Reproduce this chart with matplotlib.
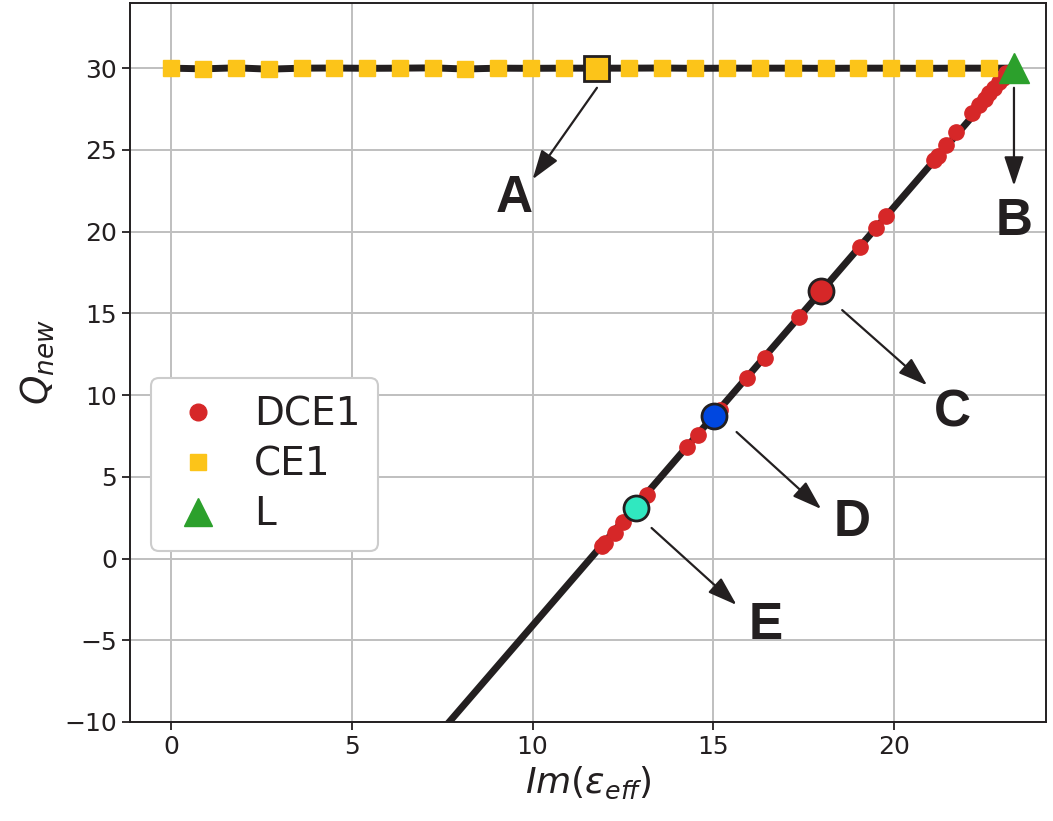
import matplotlib.pyplot as plt

# CE1 branch (horizontal)
ce1_x = [0.0, 0.90, 1.81, 2.71, 3.62, 4.52, 5.43, 6.33, 7.24, 8.14, 9.05, 9.95,
         10.86, 11.76, 12.67, 13.57, 14.48, 15.38, 16.29, 17.19, 18.10, 19.00,
         19.91, 20.81, 21.72, 22.62]
ce1_y = [30.0, 29.96, 30.02, 29.94, 30.0, 30.01, 29.99, 30.0, 30.02, 29.95, 30.0,
         29.99, 30.0, 30.0, 30.0, 30.01, 29.99, 30.0, 30.0, 30.0, 29.99, 30.0,
         30.0, 29.99, 30.0, 30.0]

# DCE1 branch (diagonal)
dce1_x = [11.93, 11.99, 12.27, 12.49, 13.15, 14.28, 14.56, 15.17, 15.94, 16.44,
          17.38, 19.06, 19.50, 19.78, 21.10, 21.20, 21.44, 21.71, 22.15, 22.35,
          22.50, 22.62, 22.75, 22.90, 23.00, 23.09]
dce1_y = [0.75, 0.95, 1.56, 2.23, 3.88, 6.82, 7.55, 9.08, 11.04, 12.26,
          14.77, 19.05, 20.21, 20.95, 24.37, 24.65, 25.29, 26.09, 27.25, 27.74,
          28.10, 28.47, 28.80, 29.14, 29.40, 29.69]

# fitted line through DCE1
fit_x = [7.50, 23.31]
fit_y = [-10.5, 30.0]

l_x, l_y = [23.31], [30.0]

# highlighted points
pts = {
    "A": (11.76, 30.0, "#fcc419", "s"),
    "C": (17.98, 16.36, "#d62728", "o"),
    "D": (15.02, 8.70, "#0047e0", "o"),
    "E": (12.87, 3.12, "#30e8c0", "o"),
}

# annotation arrows: label -> (tail, head, text position)
arrows = {
    "A": ((11.78, 28.8), (10.0, 23.2), (9.5, 22.0)),
    "B": ((23.31, 28.8), (23.31, 22.8), (23.31, 20.6)),
    "C": ((18.56, 15.2), (20.91, 10.6), (21.6, 8.9)),
    "D": ((15.64, 7.74), (17.98, 3.03), (18.84, 2.2)),
    "E": ((13.29, 1.87), (15.64, -2.84), (16.44, -4.1)),
}

line_col = "#231f20"

fig = plt.figure(figsize=(10.53, 8.21), dpi=100)
ax = fig.add_axes([0.1235, 0.1206, 0.870, 0.876])

ax.grid(True, color="#bfbfbf", linewidth=1.4, zorder=0)
ax.set_axisbelow(True)

ax.plot(ce1_x + l_x, ce1_y + l_y, color=line_col, linewidth=5, zorder=2)
ax.plot(fit_x, fit_y, color=line_col, linewidth=5, zorder=2)

ax.plot(dce1_x, dce1_y, "o", color="#d62728", markersize=11, linestyle="none",
        zorder=3, label="DCE1")
ax.plot(ce1_x, ce1_y, "s", color="#fcc419", markersize=11.5, linestyle="none",
        zorder=3, label="CE1")
ax.plot(l_x, l_y, "^", color="#2ca02c", markersize=22, linestyle="none",
        zorder=5, label="L")

for name, (px, py, col, mk) in pts.items():
    ax.plot([px], [py], mk, color=col, markersize=18, markeredgecolor=line_col,
            markeredgewidth=2, linestyle="none", zorder=4)

for name, (tail, head, tpos) in arrows.items():
    ax.annotate("", xy=head, xytext=tail,
                arrowprops=dict(arrowstyle="-|>,head_length=1.2,head_width=0.4",
                                color=line_col, linewidth=1.6,
                                shrinkA=0, shrinkB=0, mutation_scale=15))
    ax.text(tpos[0], tpos[1], name, fontsize=37, fontweight="bold",
            family="Liberation Sans", color=line_col, ha="center", va="center")

ax.set_xlim(-1.13, 24.2)
ax.set_ylim(-10, 34)
ax.set_xticks([0, 5, 10, 15, 20])
ax.set_yticks([-10, -5, 0, 5, 10, 15, 20, 25, 30])
ax.tick_params(labelsize=18, length=6, width=1.3, color=line_col,
               labelcolor=line_col)
for s in ax.spines.values():
    s.set_color(line_col)
    s.set_linewidth(1.4)

ax.set_xlabel(r"$Im(\varepsilon_{eff})$", fontsize=26, color=line_col, labelpad=4)
ax.set_ylabel(r"$Q_{new}$", fontsize=27, color=line_col, labelpad=6)

leg = ax.legend(loc="lower left", bbox_to_anchor=(0.01, 0.222), fontsize=28,
                handletextpad=0.7, borderpad=0.45, labelspacing=0.3,
                handlelength=1.5, markerscale=1.0, framealpha=1,
                edgecolor="#cccccc", borderaxespad=0.3)
leg.get_frame().set_linewidth(1.5)
for h in leg.legend_handles:
    h.set_markersize(12)
leg.legend_handles[2].set_markersize(20)
for t in leg.get_texts():
    t.set_color(line_col)

fig.savefig("out.png", dpi=100)
